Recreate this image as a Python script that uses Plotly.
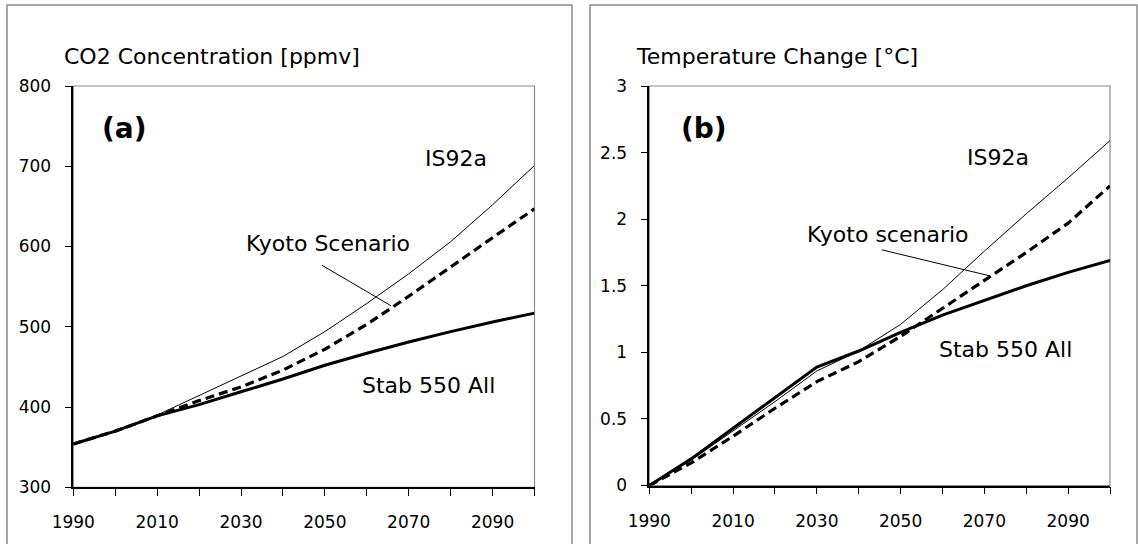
import plotly.graph_objects as go

# ---------------- data ----------------
years = [1990, 2000, 2010, 2020, 2030, 2040, 2050, 2060, 2070, 2080, 2090, 2100]

co2_is92a = [354, 369, 390, 414, 438, 463, 494, 529, 566, 606, 652, 701]
co2_kyoto = [354, 370, 389, 408, 425, 446, 472, 503, 538, 575, 611, 647]
co2_stab = [354, 370, 389, 403, 419, 435, 452, 467, 481, 494, 506, 517]

temp_is92a = [0.0, 0.19, 0.41, 0.63, 0.86, 1.01, 1.21, 1.47, 1.76, 2.04, 2.31, 2.59]
temp_kyoto = [0.0, 0.17, 0.37, 0.58, 0.78, 0.93, 1.12, 1.33, 1.54, 1.75, 1.97, 2.25]
temp_stab = [0.0, 0.20, 0.43, 0.66, 0.89, 1.01, 1.15, 1.28, 1.39, 1.50, 1.60, 1.69]

x_tickvals = [1990, 2000, 2010, 2020, 2030, 2040, 2050, 2060, 2070, 2080, 2090, 2100]
x_ticktext = ["1990", "", "2010", "", "2030", "", "2050", "", "2070", "", "2090", ""]
co2_ticks = [300, 400, 500, 600, 700, 800]
temp_ticks = [0, 0.5, 1, 1.5, 2, 2.5, 3]
temp_ticktext = ["0", "0.5", "1", "1.5", "2", "2.5", "3"]

title_a = "CO2 Concentration [ppmv]"
title_b = "Temperature Change [°C]"
series_names = ["IS92a", "Kyoto Scenario", "Stab 550 All"]

# ---------------- layout geometry ----------------
W, H = 1138, 544
FONT = "DejaVu Sans"
BLACK = "#000000"
GRAY = "#8c8c8c"

def px(x):
    return x / W

def py(y):
    return 1 - y / H

xa_dom = [px(73.3), px(534.5)]
xb_dom = [px(649.3), px(1110)]
ya_dom = [py(487.3), py(86)]
yb_dom = [py(485.5), py(86)]

fig = go.Figure()

def add_lines(xs, is92a, kyoto, stab, xa, ya):
    fig.add_trace(go.Scatter(x=xs, y=is92a, mode="lines", name=series_names[0],
                             line=dict(color=BLACK, width=1), xaxis=xa, yaxis=ya,
                             showlegend=False))
    fig.add_trace(go.Scatter(x=xs, y=stab, mode="lines", name=series_names[2],
                             line=dict(color=BLACK, width=3), xaxis=xa, yaxis=ya,
                             showlegend=False))
    fig.add_trace(go.Scatter(x=xs, y=kyoto, mode="lines", name=series_names[1],
                             line=dict(color=BLACK, width=3.2, dash="9px,5px"),
                             xaxis=xa, yaxis=ya, showlegend=False))

add_lines(years, co2_is92a, co2_kyoto, co2_stab, "x", "y")
add_lines(years, temp_is92a, temp_kyoto, temp_stab, "x2", "y2")

tickfont = dict(family=FONT, size=17, color=BLACK)

def xaxis_main(dom, anchor):
    return dict(domain=dom, anchor=anchor, range=[1990, 2100], tickmode="array",
                tickvals=x_tickvals, ticktext=x_ticktext, ticks="outside", ticklen=7,
                tickwidth=1, tickcolor=BLACK, showline=True, linecolor=BLACK,
                linewidth=1.5, showgrid=False, zeroline=False, tickfont=tickfont,
                ticklabelstandoff=12, automargin=False)

def xaxis_over(base, anchor):
    return dict(overlaying=base, anchor=anchor, range=[1990, 2100], tickmode="array",
                tickvals=x_tickvals, ticks="inside", ticklen=7, tickwidth=1,
                tickcolor=BLACK, showticklabels=False, showline=False,
                showgrid=False, zeroline=False, automargin=False)

def yaxis_main(dom, anchor, rng, tv, tt):
    return dict(domain=dom, anchor=anchor, range=rng, tickmode="array", tickvals=tv,
                ticktext=tt, ticks="outside", ticklen=7, tickwidth=1, tickcolor=BLACK,
                showline=True, linecolor=BLACK, linewidth=1.5, showgrid=False,
                zeroline=False, tickfont=tickfont, ticklabelstandoff=10,
                automargin=False)

def yaxis_over(base, anchor, rng, tv):
    return dict(overlaying=base, anchor=anchor, range=rng, tickmode="array",
                tickvals=tv, ticks="inside", ticklen=7, tickwidth=1, tickcolor=BLACK,
                showticklabels=False, showline=False, showgrid=False, zeroline=False,
                automargin=False)

fig.update_layout(
    width=W, height=H, margin=dict(l=0, r=0, t=0, b=0, pad=0, autoexpand=False),
    paper_bgcolor="white", plot_bgcolor="white",
    font=dict(family=FONT, color=BLACK),
    xaxis=xaxis_main(xa_dom, "y"),
    yaxis=yaxis_main(ya_dom, "x", [300, 800], co2_ticks, [str(v) for v in co2_ticks]),
    xaxis2=xaxis_main(xb_dom, "y2"),
    yaxis2=yaxis_main(yb_dom, "x2", [0, 3], temp_ticks, temp_ticktext),
    xaxis3=xaxis_over("x", "y"),
    yaxis3=yaxis_over("y", "x", [300, 800], co2_ticks),
    xaxis4=xaxis_over("x2", "y2"),
    yaxis4=yaxis_over("y2", "x2", [0, 3], temp_ticks),
)

shapes = []
# outer panel boxes
for x0, x1 in [(7, 572), (590, 1137)]:
    shapes.append(dict(type="rect", xref="paper", yref="paper", x0=px(x0), x1=px(x1),
                       y0=-0.05, y1=py(5), line=dict(color=GRAY, width=1.5),
                       fillcolor="rgba(0,0,0,0)", layer="below"))
# plot-area frames (gray top/right)
for xd, yd in [(xa_dom, ya_dom), (xb_dom, yb_dom)]:
    shapes.append(dict(type="rect", xref="paper", yref="paper", x0=xd[0], x1=xd[1],
                       y0=yd[0], y1=yd[1], line=dict(color=GRAY, width=1.2),
                       fillcolor="rgba(0,0,0,0)", layer="below"))
# leader lines
shapes.append(dict(type="line", xref="x", yref="y", x0=2049.3, y0=576.7, x1=2065.8,
                   y1=526.1, line=dict(color=BLACK, width=1)))
shapes.append(dict(type="line", xref="x2", yref="y2", x0=2045.5, y0=1.77, x1=2071.2,
                   y1=1.575, line=dict(color=BLACK, width=1)))
fig.update_layout(shapes=shapes)

labfont = dict(family=FONT, size=22, color=BLACK)
ann = [
    dict(text=title_a, xref="paper", yref="paper", x=px(62), y=py(57),
         xanchor="left", yanchor="middle", showarrow=False, font=labfont),
    dict(text=title_b, xref="paper", yref="paper", x=px(634), y=py(57),
         xanchor="left", yanchor="middle", showarrow=False, font=labfont),
    dict(text="<b>(a)</b>", xref="paper", yref="paper", x=px(100), y=py(128),
         xanchor="left", yanchor="middle", showarrow=False,
         font=dict(family=FONT, size=28, color=BLACK)),
    dict(text="<b>(b)</b>", xref="paper", yref="paper", x=px(679), y=py(128),
         xanchor="left", yanchor="middle", showarrow=False,
         font=dict(family=FONT, size=28, color=BLACK)),
    dict(text="IS92a", xref="x", yref="y", x=2081.2, y=709.5, showarrow=False,
         xanchor="center", yanchor="middle", font=labfont),
    dict(text="Kyoto Scenario", xref="x", yref="y", x=2050.7, y=604, showarrow=False,
         xanchor="center", yanchor="middle", font=labfont),
    dict(text="Stab 550 All", xref="x", yref="y", x=2074.7, y=427.3, showarrow=False,
         xanchor="center", yanchor="middle", font=labfont),
    dict(text="IS92a", xref="x2", yref="y2", x=2073.3, y=2.463, showarrow=False,
         xanchor="center", yanchor="middle", font=labfont),
    dict(text="Kyoto scenario", xref="x2", yref="y2", x=2046.9, y=1.883, showarrow=False,
         xanchor="center", yanchor="middle", font=labfont),
    dict(text="Stab 550 All", xref="x2", yref="y2", x=2075.1, y=1.025, showarrow=False,
         xanchor="center", yanchor="middle", font=labfont),
]
fig.update_layout(annotations=ann)

fig.write_html("out.html", config={"displayModeBar": False},
               post_script="document.body.style.margin='0px';")
